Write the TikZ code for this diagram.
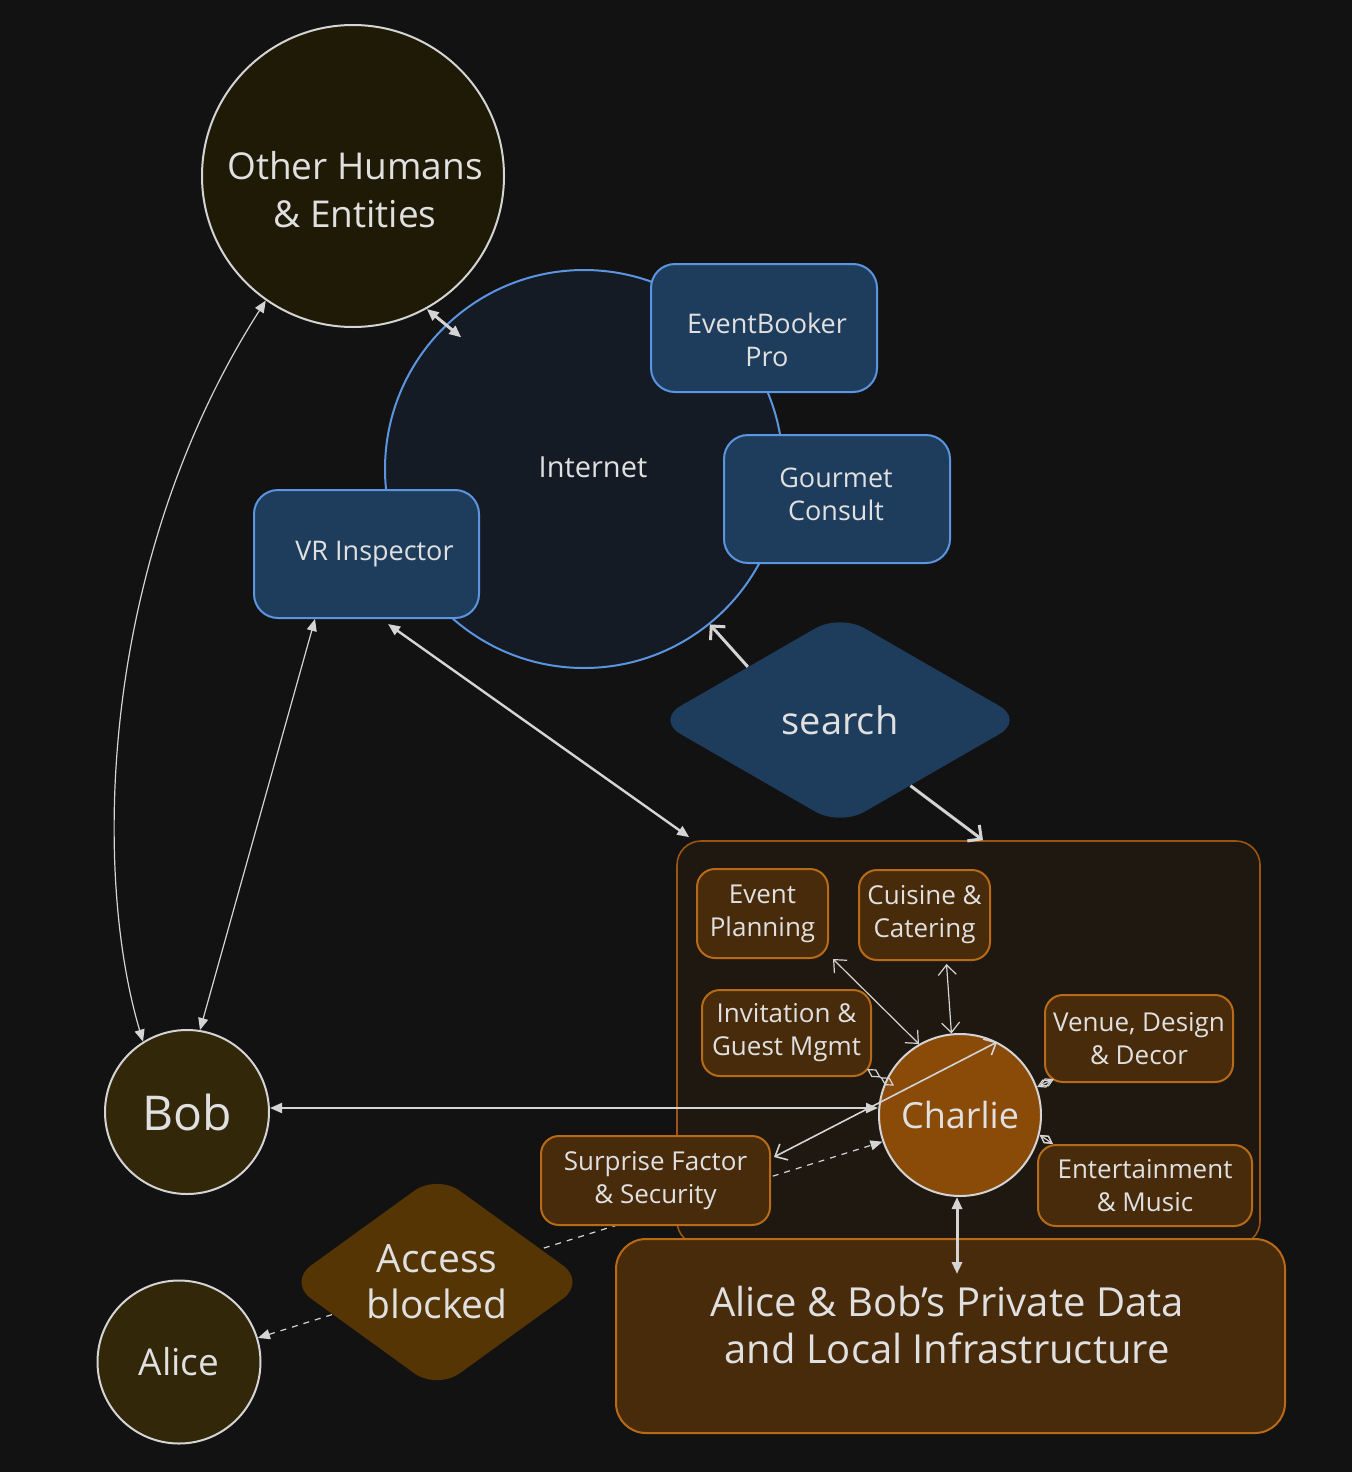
\documentclass[tikz,border=0pt]{standalone}
\usepackage{fontspec}
\setmainfont{Open Sans}
\usetikzlibrary{shapes.geometric,arrows.meta,calc}
\definecolor{bg}{HTML}{121212}
\definecolor{txtc}{HTML}{E0E0E0}
\definecolor{lc}{HTML}{D4D4D4}
\definecolor{ohfill}{HTML}{1E1A05}
\definecolor{pfill}{HTML}{33270A}
\definecolor{inetfill}{HTML}{151B25}
\definecolor{bstroke}{HTML}{5B95E0}
\definecolor{bfill}{HTML}{1E3D5C}
\definecolor{contfill}{HTML}{1F1810}
\definecolor{contstroke}{HTML}{9A5512}
\definecolor{ofill}{HTML}{472B0B}
\definecolor{ostroke}{HTML}{B86A17}
\definecolor{chfill}{HTML}{8A4A08}
\definecolor{abfill}{HTML}{553503}
\tikzset{
  lbl/.style={text=txtc, align=center, inner sep=0pt},
  fsmall/.style={font=\fontsize{13}{16.5}\selectfont},
  fblue/.style={font=\fontsize{13.5}{16.5}\selectfont},
  fbig/.style={font=\fontsize{18.5}{24}\selectfont},
  bluebox/.style={lbl, fblue, draw=bstroke, fill=bfill, line width=1pt, rounded corners=12pt},
  obox/.style={lbl, fsmall, draw=ostroke, fill=ofill, line width=1pt, rounded corners=9pt},
  person/.style={lbl, circle, draw=lc, line width=1pt},
  conn/.style={draw=lc, line width=0.6pt},
  tt/.style={{Triangle[length=6pt,width=5pt]}-{Triangle[length=6pt,width=5pt]}},
  vv/.style={{Straight Barb[length=5pt,width=9pt]}-{Straight Barb[length=5pt,width=9pt]}},
  tv/.style={-{Straight Barb[length=5pt,width=10pt]}},
  dd/.style={{Diamond[open,length=8pt,width=4.5pt]}-{Diamond[open,length=8pt,width=4.5pt]}},
}
\begin{document}
\begin{tikzpicture}[x=0.5pt,y=-0.5pt]
\fill[bg] (0,0) rectangle (1352,1472);
\useasboundingbox (0,0) rectangle (1352,1472);

% upper part
\node[person, fill=ohfill, minimum size=151pt] (oh) at (353,176) {};
\node[lbl, fbig] (ohlabel) at (355,190) {Other Humans\\\& Entities};
\node[circle, draw=bstroke, fill=inetfill, line width=1pt, minimum size=199pt] (inet) at (584,469) {};
\node[lbl, font=\fontsize{14.5}{16.5}\selectfont] (inetlabel) at (593,467) {Internet};
\node[bluebox, minimum width=113pt, minimum height=64pt] (ebp) at (764,328) {};
\node[lbl, fblue] (ebplabel) at (767,340) {EventBooker\\Pro};
\node[bluebox, minimum width=113pt, minimum height=64pt] (gc) at (837,499) {};
\node[lbl, fblue] (gclabel) at (836,494) {Gourmet\\Consult};
\node[bluebox, minimum width=112.5pt, minimum height=64pt] (vr) at (366.5,554) {\hspace*{8pt}VR Inspector};
\node[lbl, diamond, fill=bfill, minimum width=184pt, minimum height=106pt, rounded corners=14pt, font=\fontsize{19}{24}\selectfont] (search) at (840,720) {search};

% container and inner boxes
\node[draw=contstroke, fill=contfill, line width=0.8pt, rounded corners=12pt, minimum width=291.5pt, minimum height=202pt] (cont) at (968.5,1043) {};
\node[circle, fill=chfill, draw=lc, line width=1pt, minimum size=81pt, lbl, font=\fontsize{18}{22}\selectfont] (charlie) at (960,1115) {Charlie};
\node[person, fill=pfill, minimum size=82pt, font=\fontsize{24}{28}\selectfont] (bob) at (187,1112) {Bob};
\node[person, fill=pfill, minimum size=81.5pt, font=\fontsize{18.5}{22}\selectfont] (alice) at (179,1362) {Alice};

% dashed access line (behind boxes)
\draw[conn, dash pattern=on 3pt off 3pt, tt] (alice.17) -- (charlie.199);

\node[obox, minimum width=65.5pt, minimum height=44.5pt] (ep) at (762.5,913.5) {Event\\Planning};
\node[obox, minimum width=65.5pt, minimum height=45pt] (cc) at (924.5,915) {Cuisine \&\\Catering};
\node[obox, minimum width=84.5pt, minimum height=43pt] (igm) at (786.5,1033) {Invitation \&\\Guest Mgmt};
\node[obox, minimum width=94pt, minimum height=43.5pt] (vdd) at (1139,1038.5) {Venue, Design\\\& Decor};
\node[obox, minimum width=107pt, minimum height=40.5pt] (em) at (1145,1185.5) {Entertainment\\\& Music};
\node[obox, minimum width=114.5pt, minimum height=44.5pt] (sfs) at (655.5,1180.5) {Surprise Factor\\\& Security};
\node[draw=ostroke, fill=ofill, line width=1pt, rounded corners=15pt, minimum width=334.5pt, minimum height=97pt] (pd) at (950.5,1336) {};
\node[lbl, font=\fontsize{20}{23.5}\selectfont] (pdlabel) at (947,1325) {Alice \& Bob's Private Data\\and Local Infrastructure};
\node[lbl, diamond, fill=abfill, minimum width=149pt, minimum height=104pt, rounded corners=14pt, font=\fontsize{19.5}{23}\selectfont] (ab) at (437,1282) {Access\\blocked};

% connectors
\draw[conn, line width=1.5pt, tt] (oh.299) -- ($(inet.center)!0.9!(inet.133)$);
\draw[conn, tt] (oh.235) .. controls (100,560) and (92,870) .. (bob.122);
\draw[conn, tt] ([xshift=-25.75pt]vr.south) -- (bob.81);
\draw[conn, line width=1.2pt, tt] ([xshift=10.75pt,yshift=-2.5pt]vr.south) -- ([xshift=6.5pt,yshift=1.5pt]cont.north west);
\draw[conn, line width=1.5pt, tv] (search.north west) -- (inet.-51);
\draw[conn, line width=1.5pt, tv] (search.-43) -- ([xshift=7.25pt]cont.north);
\draw[conn, line width=1pt, tt] ([yshift=2pt]bob.east) -- ([yshift=3.5pt]charlie.west);
\draw[conn, vv] ([xshift=2pt]ep.south east) -- (charlie.120);
\draw[conn, vv] ([xshift=11pt,yshift=-1.5pt]cc.south) -- (charlie.96);
\draw[conn, dd] ([xshift=-2.5pt,yshift=4pt]igm.south east) -- ($(charlie.center)!0.88!(charlie.156)$);
\draw[conn, dd] ([xshift=5pt,yshift=2pt]vdd.south west) -- (charlie.20);
\draw[conn, dd] ([xshift=8pt]em.north west) -- (charlie.-14);
\draw[conn, line width=0.8pt, vv] ([yshift=11.75pt,xshift=1.5pt]sfs.east) -- (charlie.63);
\draw[conn, line width=1.5pt, tt] ([xshift=-1.5pt]charlie.south) -- ([xshift=3.25pt,yshift=-18pt]pd.north);
\end{tikzpicture}
\end{document}
